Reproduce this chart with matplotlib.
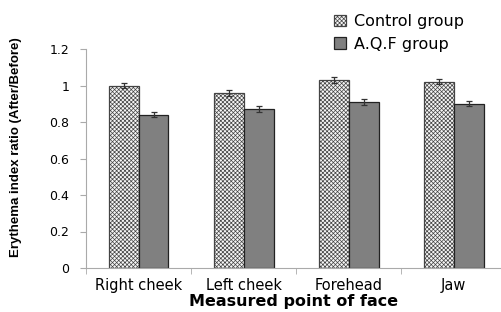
import matplotlib
matplotlib.use("Agg")
import matplotlib.pyplot as plt
import numpy as np

# ─────────────────────────────────────────────────────────────
# Data
# ─────────────────────────────────────────────────────────────
categories = ["Right cheek", "Left cheek", "Forehead", "Jaw"]
control = [1.00, 0.96, 1.03, 1.02]
control_err = [0.015, 0.015, 0.018, 0.013]
aqf = [0.84, 0.87, 0.91, 0.90]
aqf_err = [0.013, 0.015, 0.015, 0.013]
yticks = [0, 0.2, 0.4, 0.6, 0.8, 1.0, 1.2]
ytick_labels = ["0", "0.2", "0.4", "0.6", "0.8", "1", "1.2"]

plt.rcParams["hatch.color"] = "#b4b4b4"
plt.rcParams["hatch.linewidth"] = 0.5

fig = plt.figure(figsize=(5.01, 3.12), dpi=100)
ax = fig.add_axes([86 / 501, 44 / 312, 415 / 501, 219 / 312])

x = np.arange(len(categories))
w = 0.285
ax.bar(x - w / 2, control, w, color="#f6f6f6", edgecolor="#444444", hatch="xxxxxxxx",
       linewidth=0.9, label="Control group", zorder=2)
ax.bar(x + w / 2, aqf, w, color="#808080", edgecolor="#222222",
       linewidth=0.9, label="A.Q.F group", zorder=2)
ax.errorbar(x - w / 2, control, yerr=control_err, fmt="none", ecolor="#333333",
            capsize=2.5, elinewidth=0.9, capthick=0.9, zorder=3)
ax.errorbar(x + w / 2, aqf, yerr=aqf_err, fmt="none", ecolor="#333333",
            capsize=2.5, elinewidth=0.9, capthick=0.9, zorder=3)

ax.set_xlim(-0.5, 3.45)
ax.set_ylim(0, 1.2)
ax.set_yticks(yticks)
ax.set_yticklabels(ytick_labels, fontsize=9, family="DejaVu Sans")
ax.set_xticks(x)
ax.set_xticklabels(categories, fontsize=10.5, family="DejaVu Sans")
ax.tick_params(axis="x", which="major", length=0, pad=7)
ax.set_xticks(np.arange(-0.5, 3.5, 1.0), minor=True)
ax.tick_params(axis="x", which="minor", length=4, color="#aaaaaa")
ax.tick_params(axis="y", length=4, color="#aaaaaa", pad=8)

for s in ["top", "right"]:
    ax.spines[s].set_visible(False)
for s in ["left", "bottom"]:
    ax.spines[s].set_color("#aaaaaa")

ax.set_xlabel("Measured point of face", fontsize=11.5, fontweight="bold",
              family="DejaVu Sans", labelpad=1)
ax.set_ylabel("Erythema index ratio (After/Before)", fontsize=9.5,
              fontweight="bold", family="Liberation Sans")
ax.yaxis.set_label_coords(-0.155, 0.55)

fig.legend(loc="upper left", bbox_to_anchor=(316 / 501, 1.01), frameon=False,
           fontsize=11.5, handlelength=0.8, handleheight=0.7, handletextpad=0.5,
           labelspacing=0.45, borderpad=0.6)

fig.savefig("out.png", dpi=100)
